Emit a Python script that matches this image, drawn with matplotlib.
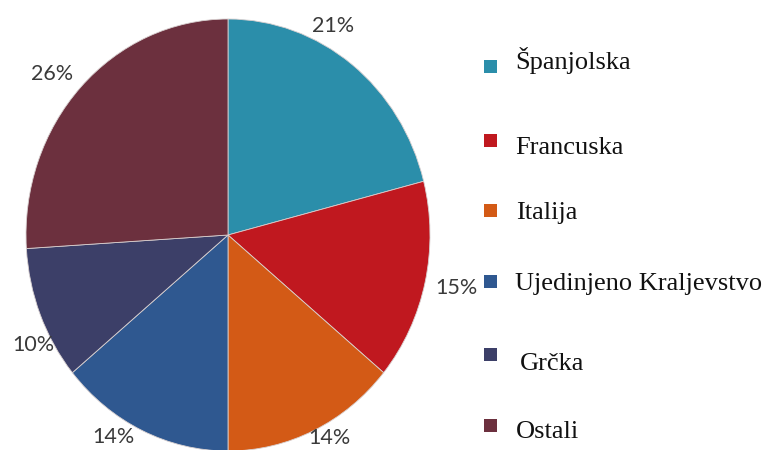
import numpy as np
import matplotlib
matplotlib.use("Agg")
import matplotlib.pyplot as plt
from matplotlib.patches import Rectangle

# ---- data ----
categories = ["Španjolska", "Francuska", "Italija", "Ujedinjeno Kraljevstvo", "Grčka", "Ostali"]
shares = [21, 15, 14, 14, 10, 26]
pct_labels = [f"{v}%" for v in shares]

# ---- style ----
colors = ["#2b8eaa", "#c0181f", "#d35a16", "#2f5890", "#3c3f68", "#6c303e"]
label_angle_offset = [9.6, 0.4, 2.9, -6.0, 6.2, 2.7]   # deg, label placement tweak
label_radius = [1.10, 1.155, 1.068, 1.095, 1.09, 1.146]
# legend layout (pixels from top-left)
leg_marker_y = [66.5, 140, 210, 281, 354, 425]
leg_text_base = [69, 154, 219, 290, 370, 438]
leg_text_x = [515, 515, 516, 515, 520, 516]

W, H = 763, 450
fig = plt.figure(figsize=(W / 100, H / 100), dpi=100)

# pie axes (pixel geometry: center (228,235), rx 202, ry 216)
cx, cy, rx, ry = 228, 235, 202, 216
ax = fig.add_axes([(cx - rx) / W, (H - cy - ry) / H, 2 * rx / W, 2 * ry / H])
wedges, _ = ax.pie(shares, colors=colors, startangle=90, counterclock=False,
                   wedgeprops=dict(edgecolor="#d8d0d0", linewidth=0.6))
ax.set_aspect("auto")
ax.set_xlim(-1, 1)
ax.set_ylim(-1, 1)
ax.axis("off")

for w, lab, off, r in zip(wedges, pct_labels, label_angle_offset, label_radius):
    mid = np.deg2rad((w.theta1 + w.theta2) / 2 + off)
    ax.text(r * np.cos(mid), r * np.sin(mid), lab, ha="center", va="center",
            fontsize=15.5, family="Lato", color="#3a3a3a", clip_on=False)

# legend (manual)
msize = 13
for cat, col, my, ty, tx in zip(categories, colors, leg_marker_y, leg_text_base, leg_text_x):
    fig.patches.append(Rectangle((484 / W, (H - my - msize / 2) / H), msize / W, msize / H,
                                 transform=fig.transFigure, facecolor=col, edgecolor="none"))
    fig.text(tx / W, (H - ty) / H, cat, ha="left", va="baseline",
             fontsize=19, family="Liberation Serif", color="#111111")

fig.savefig("out.png", dpi=100)
